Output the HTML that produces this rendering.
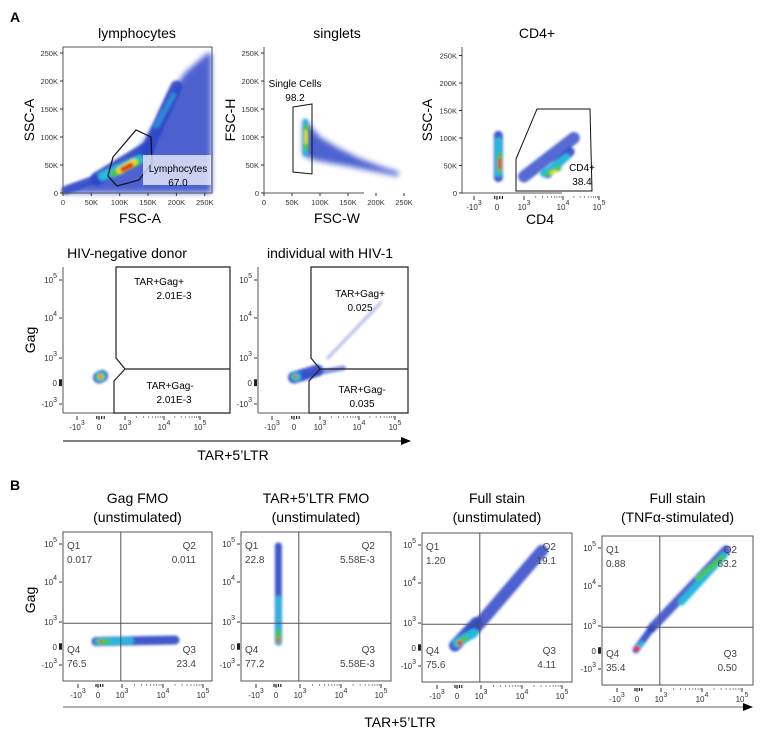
<!DOCTYPE html>
<html><head><meta charset="utf-8"><style>
html,body{margin:0;padding:0;background:#fff}
svg{display:block;font-family:"Liberation Sans",sans-serif}
</style></head><body>
<svg id="fig" width="780" height="741" viewBox="0 0 780 741" xmlns="http://www.w3.org/2000/svg">
<defs>
<filter id="bl" filterUnits="userSpaceOnUse" x="0" y="0" width="780" height="741"><feGaussianBlur stdDeviation="3"/></filter>
<filter id="bl2" filterUnits="userSpaceOnUse" x="0" y="0" width="780" height="741"><feGaussianBlur stdDeviation="1.2"/></filter>
<marker id="arr" markerWidth="10" markerHeight="8" refX="9" refY="4" orient="auto"><path d="M0,0 L10,4 L0,8 z" fill="#000"/></marker>
</defs>
<text x="10" y="22" font-size="14" font-weight="bold">A</text>
<text x="10" y="490" font-size="14" font-weight="bold">B</text>
<g id="layer"></g>
</svg>
<script>
// ---- data ----
const linTicks = [0, 50, 100, 150, 200, 250];           // K
const logTickExp = [-3, 0, 3, 4, 5];                       // -10^3,0,10^3,10^4,10^5
const uTicks = [-1, 0, 1, 2, 3];
// populations: streaks [x1,y1,x2,y2,widthLevel,colorLevel,opacity] in data units
const lymphHaze = [[0,0],[20,8],[60,22],[100,42],[135,80],[165,125],[185,170],[215,215],[255,250],[262,250],[262,0]];
const lymphStreaks = [[5,5,60,25,3,0],[60,25,150,80,5,0],[150,80,200,190,4,0],[165,120,195,175,1,1,0.6],[70,30,135,60,3,1],[90,35,130,55,2,2],[100,40,125,55,2,3],[105,42,120,50,1,4]];
const singHaze = [[70,132],[78,125],[100,100],[130,82],[170,62],[215,45],[240,38],[240,30],[200,38],[150,48],[110,55],[85,60],[70,68]];
const singStreaks = [[74,70,74,128,1,1],[75,80,75,118,1,2],[75,90,75,110,0,3]];
const cd4Streaks = [[0.05,28,0.05,105,3,0],[0.05,35,0.05,95,2,1],[0.1,40,0.1,70,1,2],[0.1,45,0.1,62,0,4],[1.0,30,2.3,100,4,0,0.8],[1.6,35,2.2,75,3,0],[1.5,35,2.1,65,2,1],[1.6,35,1.9,45,1,2],[1.7,36,1.8,40,0,3]];
const negStreaks = [[0.0,0.22,0.12,0.28,4,0],[0.02,0.23,0.1,0.27,3,1],[0.04,0.24,0.08,0.26,2,2],[0.05,0.25,0.07,0.25,1,3],[0.05,0.25,0.06,0.25,0,4]];
const posStreaks = [[0.0,0.22,0.9,0.5,4,0],[0.05,0.25,1.6,0.6,1,0,0.6],[0.05,0.25,0.1,0.25,3,1],[0.05,0.25,0.06,0.25,1,2],[0.05,0.25,0.06,0.25,0,4],[1.2,1.0,2.6,2.4,0,0,0.35]];
const b1Streaks = [[-0.1,0.22,2.3,0.28,3,0],[0.0,0.22,1.2,0.25,2,1],[0.05,0.22,0.4,0.22,1,2],[0.1,0.22,0.12,0.22,0,4]];
const b2Streaks = [[0.1,0.2,0.1,2.95,2,0],[0.1,0.2,0.1,1.6,1,1],[0.1,0.25,0.1,0.6,1,2],[0.1,0.25,0.1,0.3,0,4]];
const b3Streaks = [[-0.1,0.1,0.8,1.0,4,0],[0.6,0.6,2.5,2.85,4,0,0.85],[0.0,0.2,0.7,0.6,3,1],[0.05,0.2,0.35,0.4,1,2],[0.1,0.2,0.12,0.2,1,4]];
const b4Streaks = [[-0.05,0.05,0.6,0.9,2,0],[0.6,0.9,2.6,2.95,3,0,0.85],[1.5,1.6,2.55,2.8,2,1],[1.9,2.2,2.5,2.75,1,2],[0.0,0.1,0.2,0.3,1,1],[0.0,0.1,0.02,0.1,1,4]];
// ---- helpers ----
const NS="http://www.w3.org/2000/svg";
const layer=document.getElementById('layer');
const widths=[3,5,7,9,12,14,18];
const colors=['#2d46c8','#27b8de','#46c84a','#e6e01e','#e83018'];
function el(tag,attrs,parent){const e=document.createElementNS(NS,tag);for(const k in attrs)e.setAttribute(k,attrs[k]);(parent||layer).appendChild(e);return e;}
function interp(u,us,ps){for(let i=0;i<us.length-1;i++){if(u<=us[i+1]||i===us.length-2){const t=(u-us[i])/(us[i+1]-us[i]);return ps[i]+t*(ps[i+1]-ps[i]);}}}
function makePlot(o){
  const p=Object.assign({},o);
  if(o.xlog){p.X=u=>o.x0+interp(u,uTicks,o.xs);}else{p.X=v=>o.x0+v*o.kx;}
  if(o.ylog){p.Y=u=>o.y1-interp(u,uTicks,o.ys);}else{p.Y=v=>o.y1-v*o.ky;}
  return p;
}
function drawStreaks(p,arr,name){
  const g=el('g',{filter:'url(#bl2)'});
  
  
  arr.forEach(s=>{
    const l=el('line',{x1:p.X(s[0]),y1:p.Y(s[1]),x2:p.X(s[2]),y2:p.Y(s[3]),stroke:colors[s[5]],'stroke-width':widths[s[4]],'stroke-linecap':'round','opacity':s[6]!==undefined?s[6]:(s[5]===0?0.9:1)},g);
    
    
  });
}
function drawHaze(p,pts,name){
  const pg=el('polygon',{points:pts.map(q=>p.X(q[0])+','+p.Y(q[1])).join(' '),fill:'#2d46c8',opacity:0.85,filter:'url(#bl)'});
  
  
}
function text(x,y,s,attrs,name){const t=el('text',Object.assign({x:x,y:y,'font-size':10},attrs||{}));t.textContent=s;return t;}
function powLabel(x,y,exp,name,anchor){
  const t=el('text',{x:x,y:y,'font-size':8,fill:'#333','text-anchor':anchor||'middle'});
  
  
  if(exp===0){t.textContent='0';return;}
  const b=document.createElementNS(NS,'tspan');b.textContent=(exp<0?'-':'')+'10';t.appendChild(b);
  const s=document.createElementNS(NS,'tspan');s.setAttribute('dy','-5');s.setAttribute('font-size','7');s.textContent=Math.abs(exp);t.appendChild(s);
}
function frame(p,name,sides){
  const g=el('g',{});
  if(sides!=='none') el('rect',{x:p.x0,y:p.y0,width:p.x1-p.x0,height:p.y1-p.y0,fill:'none',stroke:'#555','stroke-width':1},g);
  else{el('line',{x1:p.x0,y1:p.y0,x2:p.x0,y2:p.y1,stroke:'#555'},g);el('line',{x1:p.x0,y1:p.y1,x2:p.x0+100,y2:p.y1,stroke:'#555'},g);}
}
function axes(p,pre){
  if(p.xlog){uTicks.forEach((u,i)=>{const x=p.X(u);el('line',{x1:x,y1:p.y1+3,x2:x,y2:p.y1+7,stroke:'#333'});powLabel(x,p.y1+17,logTickExp[i],pre+'-x-tick');});
    for(let u=-1;u<=3;u+=0.1){if(u>-0.2&&u<0.2){el('line',{x1:p.X(u),y1:p.y1+3,x2:p.X(u),y2:p.y1+6,stroke:'#222','stroke-width':1.2});}}
    [[1,2],[2,3]].forEach(r=>{for(let k=2;k<10;k++){const x=p.X(r[0]+Math.log10(k));el('line',{x1:x,y1:p.y1+3,x2:x,y2:p.y1+5,stroke:'#666','stroke-width':0.7});}});
  } else {linTicks.forEach(v=>{const x=p.X(v);el('line',{x1:x,y1:p.y1,x2:x,y2:p.y1+3,stroke:'#333'});text(x,p.y1+12,v===0?'0':v+'K',{'font-size':7.5,fill:'#333','text-anchor':'middle'},pre+'-x-tick');});}
  if(p.ylog){uTicks.forEach((u,i)=>{const y=p.Y(u);el('line',{x1:p.x0-4,y1:y,x2:p.x0-1,y2:y,stroke:'#333'});powLabel(p.x0-6,y+3,logTickExp[i],pre+'-y-tick','end');});
    el('rect',{x:p.x0-4,y:p.Y(0.15),width:3,height:p.Y(-0.15)-p.Y(0.15),fill:'#222'});
  } else {linTicks.forEach(v=>{const y=p.Y(v);el('line',{x1:p.x0-3,y1:y,x2:p.x0,y2:y,stroke:'#333'});text(p.x0-5,y+3,v===0?'0':v+'K',{'font-size':7.5,fill:'#333','text-anchor':'end'},pre+'-y-tick');});}
}
// ---- Panel A row 1 ----
const lym=makePlot({x0:63,x1:212,y0:47,y1:193,kx:0.567,ky:0.56});
drawHaze(lym,lymphHaze,'lymph-density-haze');drawStreaks(lym,lymphStreaks,'lymph-density');
frame(lym,'lymph-plot-frame');axes(lym,'lymph');
el('polygon',{points:'108,176 113,157 136,130 151,137 152,163 139,180 117,186',fill:'none',stroke:'#111','stroke-width':1.2});
el('rect',{x:143,y:155,width:68,height:30,fill:'#fff',opacity:0.7});
text(178,172,'Lymphocytes',{'font-size':10,'text-anchor':'middle'},'lymph-gate-name');
text(178,186,'67.0',{'font-size':10,'text-anchor':'middle'},'lymph-gate-value');
text(137,38,'lymphocytes',{'font-size':14,'text-anchor':'middle'},'lymph-title');
text(140,223,'FSC-A',{'font-size':14,'text-anchor':'middle'},'lymph-x-title');
text(0,0,'SSC-A',{'font-size':14,'text-anchor':'middle',transform:'translate(34,120) rotate(-90)'},'lymph-y-title');

const sing=makePlot({x0:264,x1:412,y0:47,y1:193,kx:0.56,ky:0.56});
drawHaze(sing,singHaze,'singlets-density-haze');drawStreaks(sing,singStreaks,'singlets-density');
frame(sing,'singlets-plot-frame','none');axes(sing,'singlets');
el('polygon',{points:'293,107 312,104 312,174 293,172',fill:'none',stroke:'#111','stroke-width':1});
text(295,87,'Single Cells',{'font-size':10,'text-anchor':'middle'},'singlets-gate-name');
text(295,101,'98.2',{'font-size':10,'text-anchor':'middle'},'singlets-gate-value');
text(337,38,'singlets',{'font-size':14,'text-anchor':'middle'},'singlets-title');
text(337,223,'FSC-W',{'font-size':14,'text-anchor':'middle'},'singlets-x-title');
text(0,0,'FSC-H',{'font-size':14,'text-anchor':'middle',transform:'translate(235,120) rotate(-90)'},'singlets-y-title');

const cd4=makePlot({x0:462,x1:611,y0:47,y1:193,xlog:true,xs:[12,35,62,101,137],ky:0.55});
drawStreaks(cd4,cd4Streaks,'cd4-density');
frame(cd4,'cd4-plot-frame','none');axes(cd4,'cd4');
el('polygon',{points:'516,191 516,159 537,109 590,109 592,191',fill:'none',stroke:'#111','stroke-width':1});
text(582,171,'CD4+',{'font-size':10,'text-anchor':'middle'},'cd4-gate-name');
text(582,185,'38.4',{'font-size':10,'text-anchor':'middle'},'cd4-gate-value');
text(537,38,'CD4+',{'font-size':14,'text-anchor':'middle'},'cd4-title');
text(540,224,'CD4',{'font-size':14,'text-anchor':'middle'},'cd4-x-title');
text(0,0,'SSC-A',{'font-size':14,'text-anchor':'middle',transform:'translate(432,120) rotate(-90)'},'cd4-y-title');

// ---- Panel A row 2 ----
const neg=makePlot({x0:63,x1:230,y0:267,y1:413,xlog:true,ylog:true,xs:[14,36,62,101,137],ys:[9,30,55,95,133]});
const pos=makePlot({x0:258,x1:408,y0:267,y1:413,xlog:true,ylog:true,xs:[14,36,62,101,137],ys:[9,30,55,95,133]});
drawStreaks(neg,negStreaks,'neg-density');drawStreaks(pos,posStreaks,'pos-density');
[neg,pos].forEach((p,i)=>{const n=i?'hiv-pos':'hiv-neg';
  el('line',{x1:p.x0,y1:p.y0,x2:p.x0,y2:p.y1,stroke:'#555'});el('line',{x1:p.x0,y1:p.y1,x2:p.x0+115,y2:p.y1,stroke:'#555'});axes(p,n);
  const vx=p.x0+53,hy=p.y0+101;
  el('path',{d:`M${vx},${p.y0} H${p.x1} V${p.y1} H${vx-2} V${hy+13} L${vx+9},${hy+1} L${vx},${hy-10} Z M${vx+9},${hy+1} H${p.x1}`,fill:'none',stroke:'#222','stroke-width':1.2});
});
text(159,285,'TAR+Gag+',{'font-size':10,'text-anchor':'middle'},'neg-gagpos-name');
text(174,299,'2.01E-3',{'font-size':10,'text-anchor':'middle'},'neg-gagpos-value');
text(170,389,'TAR+Gag-',{'font-size':10,'text-anchor':'middle'},'neg-gagneg-name');
text(174,403,'2.01E-3',{'font-size':10,'text-anchor':'middle'},'neg-gagneg-value');
text(360,297,'TAR+Gag+',{'font-size':10,'text-anchor':'middle'},'pos-gagpos-name');
text(360,311,'0.025',{'font-size':10,'text-anchor':'middle'},'pos-gagpos-value');
text(362,393,'TAR+Gag-',{'font-size':10,'text-anchor':'middle'},'pos-gagneg-name');
text(362,407,'0.035',{'font-size':10,'text-anchor':'middle'},'pos-gagneg-value');
text(127,258,'HIV-negative donor',{'font-size':14,'text-anchor':'middle'},'neg-title');
text(330,258,'individual with HIV-1',{'font-size':14,'text-anchor':'middle'},'pos-title');
text(0,0,'Gag',{'font-size':14,'text-anchor':'middle',transform:'translate(35,340) rotate(-90)'},'row2-y-title');
el('line',{x1:63,y1:441,x2:410,y2:441,stroke:'#000','stroke-width':1,'marker-end':'url(#arr)'});
text(233,460,'TAR+5\u2019LTR',{'font-size':14,'text-anchor':'middle'},'row2-x-title');

// ---- Panel B ----
const bx=[63,241,422,602],bw=[149,150,150,151];
const bTitles=[['Gag FMO','(unstimulated)'],['TAR+5\u2019LTR FMO','(unstimulated)'],['Full stain','(unstimulated)'],['Full stain','(TNF\u03b1-stimulated)']];
const qVals=[['0.017','0.011','23.4','76.5'],['22.8','5.58E-3','5.58E-3','77.2'],['1.20','19.1','4.11','75.6'],['0.88','63.2','0.50','35.4']];
const bStreaks=[b1Streaks,b2Streaks,b3Streaks,b4Streaks];
bx.forEach((x0,i)=>{
  const y0=532+(i>1?i-1:0)+(i===3?2:0),y1=y0+149;
  const p=makePlot({x0:x0,x1:x0+bw[i],y0:y0,y1:y1,xlog:true,ylog:true,xs:[15,35,59,100,140],ys:[16,34,59,99,137]});
  drawStreaks(p,bStreaks[i],'b'+(i+1)+'-density');
  frame(p,'b'+(i+1)+'-plot-frame');axes(p,'b'+(i+1));
  const vx=p.X(0.95),hy=p.Y(0.95);
  el('line',{x1:vx,y1:y0,x2:vx,y2:y1,stroke:'#555'});el('line',{x1:x0,y1:hy,x2:p.x1,y2:hy,stroke:'#555'});
  const c='#444';
  text(x0+4,y0+17,'Q1',{'font-size':10,fill:c},'b'+(i+1)+'-q1-label');
  text(x0+4,y0+31,qVals[i][0],{'font-size':10,fill:c},'b'+(i+1)+'-q1-value');
  text(p.x1-16,y0+17,'Q2',{'font-size':10,fill:c,'text-anchor':'end'},'b'+(i+1)+'-q2-label');
  text(p.x1-16,y0+31,qVals[i][1],{'font-size':10,fill:c,'text-anchor':'end'},'b'+(i+1)+'-q2-value');
  text(p.x1-16,y0+121,'Q3',{'font-size':10,fill:c,'text-anchor':'end'},'b'+(i+1)+'-q3-label');
  text(p.x1-16,y0+135,qVals[i][2],{'font-size':10,fill:c,'text-anchor':'end'},'b'+(i+1)+'-q3-value');
  text(x0+4,y0+121,'Q4',{'font-size':10,fill:c},'b'+(i+1)+'-q4-label');
  text(x0+4,y0+135,qVals[i][3],{'font-size':10,fill:c},'b'+(i+1)+'-q4-value');
  const cx=x0+bw[i]/2;
  text(cx,503,bTitles[i][0],{'font-size':14,'text-anchor':'middle'},'b'+(i+1)+'-title');
  text(cx,522,bTitles[i][1],{'font-size':14,'text-anchor':'middle'},'b'+(i+1)+'-subtitle');
});
text(0,0,'Gag',{'font-size':14,'text-anchor':'middle',transform:'translate(35,600) rotate(-90)'},'b-y-title');
el('line',{x1:63,y1:707,x2:752,y2:707,stroke:'#666','stroke-width':1,'marker-end':'url(#arr)'});
text(400,727,'TAR+5\u2019LTR',{'font-size':14,'text-anchor':'middle'},'b-x-title');
</script>
</body></html>
